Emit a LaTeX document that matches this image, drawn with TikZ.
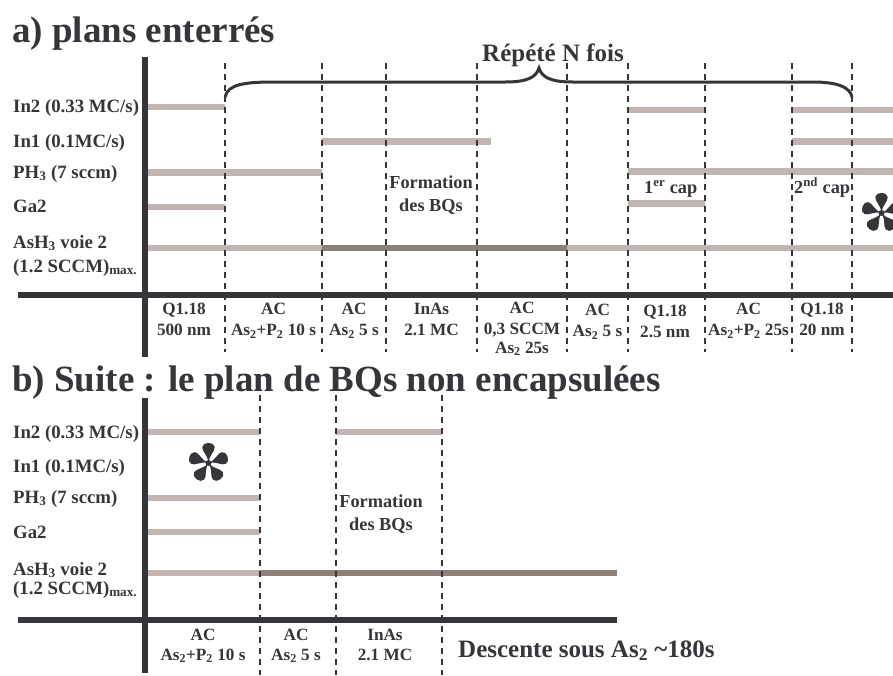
\documentclass[tikz,border=0pt]{standalone}
\usepackage{fontspec}
\setmainfont{Liberation Serif}
\definecolor{ink}{HTML}{35353A}
\definecolor{barlight}{HTML}{C0B5B2}
\definecolor{bardark}{HTML}{8E7F7B}
\tikzset{
  axisline/.style={ink, line width=6pt},
  barL/.style={barlight, line width=6.5pt},
  barD/.style={bardark, line width=6.5pt},
  sepline/.style={ink, line width=1.5pt, dash pattern=on 6pt off 5pt},
  bracepath/.style={ink, line width=3pt},
  lab/.style={inner sep=0pt, text=ink, anchor=base west, font=\fontsize{18.8}{22}\selectfont\bfseries},
  blab/.style={inner sep=0pt, text=ink, anchor=base, font=\fontsize{17.2}{20}\selectfont\bfseries},
  note/.style={inner sep=0pt, text=ink, font=\fontsize{18.3}{21}\selectfont\bfseries},
  bigtitle/.style={inner sep=0pt, text=ink, anchor=base west, font=\fontsize{37}{40}\selectfont\bfseries},
  midtitle/.style={inner sep=0pt, text=ink, anchor=base west, font=\fontsize{25}{28}\selectfont\bfseries},
  astr/.pic={
    \fill[ink] (0,0) circle (3);
    \foreach \a in {90,162,234,306,18}{
      \fill[ink,rotate=\a] (0,0) .. controls (9,1) and (11,6.5) .. (16,6.2)
        .. controls (21.5,5.8) and (21.5,-5.8) .. (16,-6.2)
        .. controls (11,-6.5) and (9,-1) .. (0,0);
    }
  }
}
\begin{document}
\begin{tikzpicture}[x=1pt,y=-1pt]
\useasboundingbox (0,0) rectangle (893,675);

% ================= part a =================
\node[bigtitle] (ta) at (12,42) {a) plans enterrés};

% bars
\draw[barL] (148,107) -- (225,107);
\draw[barL] (628,110) -- (705,110);
\draw[barL] (792,110) -- (893,110);
\draw[barL] (322,141.7) -- (491,141.7);
\draw[barL] (792,141.7) -- (893,141.7);
\draw[barL] (148,172.5) -- (322,172.5);
\draw[barL] (628,171.5) -- (893,171.5);
\draw[barL] (148,207) -- (225,207);
\draw[barL] (628,203.5) -- (705,203.5);
\draw[barL] (148,248) -- (322,248);
\draw[barD] (322,248) -- (567,248);
\draw[barL] (567,248) -- (893,248);

% axes
\draw[axisline] (145,57) -- (145,357);
\draw[axisline] (18,295) -- (893,295);

% separators
\foreach \x in {225,322,386,477,567,628,705,792,852}{
  \draw[sepline] (\x,63) -- (\x,352);
}

% brace
\draw[bracepath] (225,97) .. controls (228,84) and (245,82) .. (275,82) -- (505,82)
  .. controls (526,82) and (536,78) .. (539,68)
  .. controls (542,78) and (552,82) .. (573,82) -- (812,82)
  .. controls (840,82) and (850,88) .. (852,97);
\node[midtitle] (rep) at (482,61) {Répété N fois};

% row labels
\node[lab] (ain2) at (13,112) {In2 (0.33 MC/s)};
\node[lab] (ain1) at (13,147) {In1 (0.1MC/s)};
\node[lab] (aph3) at (13,178) {PH\textsubscript{3} (7 sccm)};
\node[lab] (aga2) at (13,212.5) {Ga2};
\node[lab] (aash) at (13,248) {AsH\textsubscript{3} voie 2};
\node[lab] (asccm) at (13,272) {(1.2 SCCM)\textsubscript{max.}};

% notes
\node[note, anchor=base] (aform1) at (431,188) {Formation};
\node[note, anchor=base] (aform2) at (431,211) {des BQs};
\node[note, anchor=base west] (cap1) at (644,193) {1\textsuperscript{er} cap};
\node[note, anchor=base west] (cap2) at (794,193) {2\textsuperscript{nd} cap};
\pic at (881.5,213) {astr};

% bottom labels a
\node[blab] (a1a) at (184,314) {Q1.18};
\node[blab] (a1b) at (184,335.5) {500 nm};
\node[blab] (a2a) at (273.5,314) {AC};
\node[blab] (a2b) at (273.5,335.5) {As\textsubscript{2}+P\textsubscript{2} 10 s};
\node[blab] (a3a) at (354,314) {AC};
\node[blab] (a3b) at (354,335.5) {As\textsubscript{2} 5 s};
\node[blab] (a4a) at (431.5,314) {InAs};
\node[blab] (a4b) at (431.5,335.5) {2.1 MC};
\node[blab] (a5a) at (522,313) {AC};
\node[blab] (a5b) at (522,334) {0,3 SCCM};
\node[blab] (a5c) at (522,353) {As\textsubscript{2} 25s};
\node[blab] (a6a) at (597.5,315) {AC};
\node[blab] (a6b) at (597.5,336.5) {As\textsubscript{2} 5 s};
\node[blab] (a7a) at (665,316) {Q1.18};
\node[blab] (a7b) at (665,337.5) {2.5 nm};
\node[blab] (a8a) at (748.5,314) {AC};
\node[blab] (a8b) at (748.5,335.5) {As\textsubscript{2}+P\textsubscript{2} 25s};
\node[blab] (a9a) at (822,314) {Q1.18};
\node[blab] (a9b) at (822,335.5) {20 nm};

% ================= part b =================
\node[bigtitle] (tb) at (12,391) {b) Suite : le plan de BQs non encapsulées};

\draw[barL] (148,432) -- (260,432);
\draw[barL] (336,432) -- (442,432);
\draw[barL] (148,498) -- (260,498);
\draw[barL] (148,532) -- (260,532);
\draw[barL] (148,573) -- (260,573);
\draw[barD] (260,573) -- (617,573);

\draw[axisline] (145,398) -- (145,673);
\draw[axisline] (18,620) -- (617,620);

\foreach \x in {260,336,442}{
  \draw[sepline] (\x,395) -- (\x,675);
}

\node[lab] (bin2) at (13,438) {In2 (0.33 MC/s)};
\node[lab] (bin1) at (13,472) {In1 (0.1MC/s)};
\node[lab] (bph3) at (13,503) {PH\textsubscript{3} (7 sccm)};
\node[lab] (bga2) at (13,538) {Ga2};
\node[lab] (bash) at (13,575) {AsH\textsubscript{3} voie 2};
\node[lab] (bsccm) at (13,594) {(1.2 SCCM)\textsubscript{max.}};

\pic at (208.5,463) {astr};
\node[note, anchor=base] (bform1) at (381,507) {Formation};
\node[note, anchor=base] (bform2) at (381,530) {des BQs};

\node[blab] (b1a) at (203,640) {AC};
\node[blab] (b1b) at (203,660) {As\textsubscript{2}+P\textsubscript{2} 10 s};
\node[blab] (b2a) at (296,640) {AC};
\node[blab] (b2b) at (296,660) {As\textsubscript{2} 5 s};
\node[blab] (b3a) at (385,640) {InAs};
\node[blab] (b3b) at (385,660) {2.1 MC};

\node[midtitle] (desc) at (458,657) {Descente sous As\textsubscript{2} \textasciitilde180s};
\end{tikzpicture}
\end{document}
